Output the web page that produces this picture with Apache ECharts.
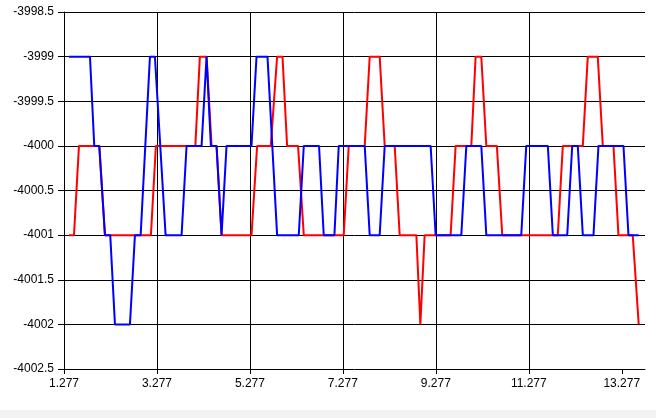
<!DOCTYPE html>
<html>
<head>
<meta charset="utf-8">
<script src="https://cdn.jsdelivr.net/npm/echarts@6/dist/echarts.min.js"></script>
<style>
    html, body { margin: 0; padding: 0; background: #ffffff; }
    #chart { width: 656px; height: 410px; }
    #strip { width: 656px; height: 8px; background: #f3f3f3; }
</style>
</head>
<body>
<div id="chart"></div>
<div id="strip"></div>
<script>
    // x axis starts at this value, labels every 2 units
    let xStart = 1.277
    let xSpan = 12.5
    let xTicks = [1.277, 3.277, 5.277, 7.277, 9.277, 11.277, 13.277]
    let yTicks = [-4002.5, -4002, -4001.5, -4001, -4000.5, -4000, -3999.5, -3999, -3998.5]

    // corner points of the red trace (x, value)
    let redX = [1.384, 1.492, 1.599, 2.036, 2.158, 3.147, 3.254, 4.103, 4.200, 4.344, 4.452, 4.559, 4.667,
        5.311, 5.432, 5.726, 5.862, 5.978, 6.077, 6.313, 6.436, 7.295, 7.403, 7.747, 7.854, 8.069, 8.177,
        8.392, 8.499, 8.858, 8.944, 9.036, 9.595, 9.703, 10.040, 10.133, 10.255, 10.363, 10.590, 10.706,
        11.901, 12.009, 12.439, 12.546, 12.761, 12.869, 13.099, 13.206, 13.513, 13.642]
    let redY = [-4001, -4001, -4000, -4000, -4001, -4001, -4000, -4000, -3999, -3999, -4000, -4000, -4001,
        -4001, -4000, -4000, -3999, -3999, -4000, -4000, -4001, -4001, -4000, -4000, -3999, -3999, -4000,
        -4000, -4001, -4001, -4002, -4001, -4001, -4000, -4000, -3999, -3999, -4000, -4000, -4001,
        -4001, -4000, -4000, -3999, -3999, -4000, -4000, -4001, -4001, -4002]

    // corner points of the blue trace
    let blueX = [1.384, 1.836, 1.928, 2.036, 2.158, 2.272, 2.373, 2.696, 2.803, 2.926, 3.126, 3.233, 3.463,
        3.807, 3.914, 4.237, 4.344, 4.437, 4.559, 4.667, 4.774, 5.311, 5.419, 5.655, 5.862, 6.328, 6.436,
        6.764, 6.865, 7.095, 7.188, 7.747, 7.854, 8.069, 8.177, 9.165, 9.273, 9.825, 9.933, 10.255, 10.363,
        11.115, 11.222, 11.687, 11.794, 12.104, 12.211, 12.331, 12.439, 12.669, 12.776, 13.314, 13.421, 13.642]
    let blueY = [-3999, -3999, -4000, -4000, -4001, -4001, -4002, -4002, -4001, -4001, -3999, -3999, -4001,
        -4001, -4000, -4000, -3999, -4000, -4000, -4001, -4000, -4000, -3999, -3999, -4001, -4001, -4000,
        -4000, -4001, -4001, -4000, -4000, -4001, -4001, -4000, -4000, -4001, -4001, -4000, -4000, -4001,
        -4001, -4000, -4000, -4001, -4001, -4000, -4000, -4001, -4001, -4000, -4000, -4001, -4001]

    function pairs(xs, ys) {
        let out = []
        for (let i = 0; i < xs.length; i++) {
            out.push([xs[i] - xStart, ys[i]])
        }
        return out
    }

    let tickOffsets = xTicks.map(function (v) { return +(v - xStart).toFixed(3) })
    let labelFont = { color: '#000', fontSize: 12, fontFamily: '"Liberation Sans", Arial, sans-serif' }

    let myChart = echarts.init(document.getElementById('chart'))
    const option = {
        animation: false,
        grid: { left: 64, right: 11, top: 12, bottom: 41, containLabel: false },
        xAxis: {
            type: 'value',
            min: 0,
            max: xSpan,
            interval: 2,
            axisLine: { show: true, lineStyle: { color: '#000', width: 1 } },
            axisTick: { show: true, length: 5, customValues: tickOffsets, lineStyle: { color: '#000' } },
            axisLabel: Object.assign({
                margin: 9,
                customValues: tickOffsets,
                formatter: function (v) { return (v + xStart).toFixed(3) }
            }, labelFont),
            splitLine: { show: true, showMinLine: false, showMaxLine: false, lineStyle: { color: '#000', width: 1 } }
        },
        yAxis: {
            type: 'value',
            min: yTicks[0],
            max: yTicks[yTicks.length - 1],
            interval: 0.5,
            axisLine: { show: true, lineStyle: { color: '#000', width: 1 } },
            axisTick: { show: true, length: 6, lineStyle: { color: '#000' } },
            axisLabel: Object.assign({
                margin: 10,
                formatter: function (v) { return String(v) }
            }, labelFont),
            splitLine: { show: true, showMinLine: false, lineStyle: { color: '#000', width: 1 } }
        },
        series: [
            {
                name: 'red',
                type: 'line',
                data: pairs(redX, redY),
                symbol: 'none',
                lineStyle: { color: '#ff0000', width: 2 }
            },
            {
                name: 'blue',
                type: 'line',
                data: pairs(blueX, blueY),
                symbol: 'none',
                lineStyle: { color: '#0000ff', width: 2 }
            }
        ]
    }
    myChart.setOption(option)
</script>
</body>
</html>
